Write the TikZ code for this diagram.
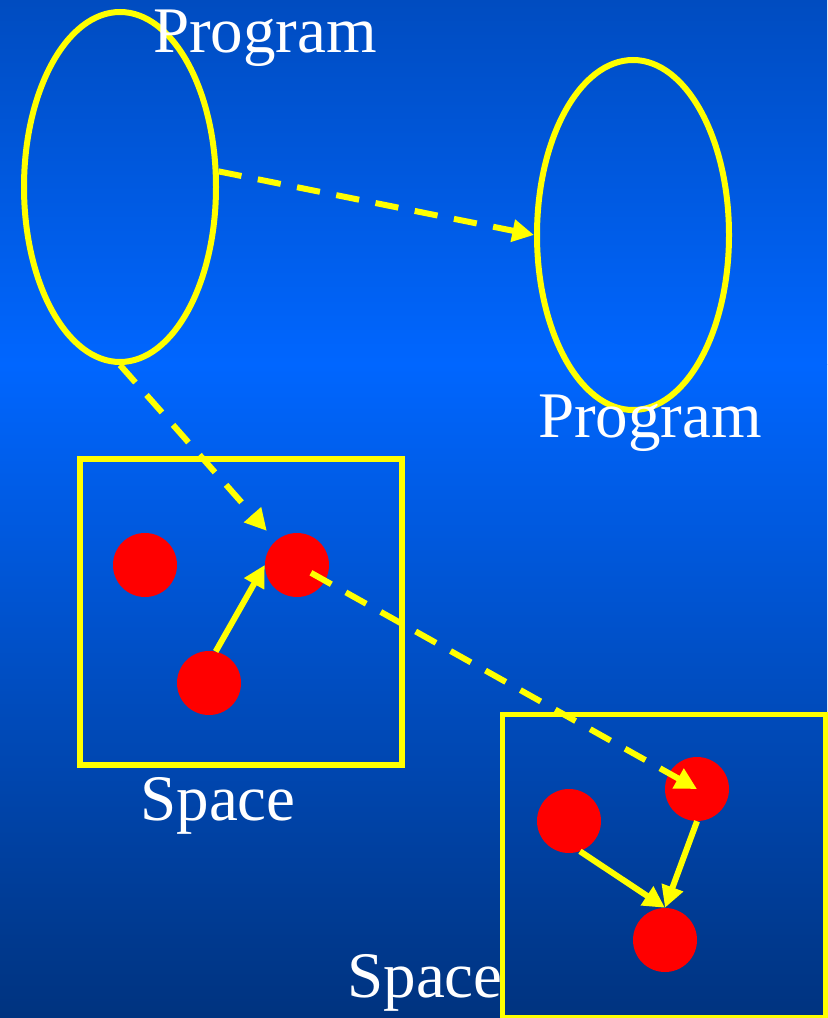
\documentclass[tikz,border=0pt]{standalone}
\usepackage{fontspec}
\setmainfont{Liberation Serif}
\usetikzlibrary{arrows.meta,shapes.geometric}
\definecolor{deep}{HTML}{004CC0}
\definecolor{bright}{HTML}{0066FF}
\definecolor{dusk}{HTML}{00337F}
\definecolor{gold}{HTML}{FFFF00}
\definecolor{ruby}{HTML}{FF0000}

\begin{document}
\begin{tikzpicture}[
 x=0.3mm,y=-0.3mm,
 prog/.style={ellipse,draw=gold,line width=1.8mm,minimum width=57.6mm,minimum height=105mm,inner sep=0pt},
 spacebox/.style={rectangle,draw=gold,line width=1.7mm,minimum width=96.6mm,minimum height=91.8mm,inner sep=0pt},
 dot/.style={circle,fill=ruby,minimum size=19.2mm,inner sep=0pt},
 caption/.style={text=white,anchor=base,inner sep=0pt,font=\fontsize{55.5}{60}\selectfont},
 flow/.style={-{Triangle[length=6.5mm,width=6.5mm]},gold,line width=1.8mm},
 jump/.style={flow,dash pattern=on 7mm off 5mm}
]
\useasboundingbox (0,0) rectangle (827,1018);
\shade[top color=deep,bottom color=bright] (0,0) rectangle (827,364);
\shade[top color=bright,bottom color=dusk] (0,364) rectangle (827,1018);
\node[spacebox] (s1) at (241,612) {};
\node[spacebox,minimum width=96.9mm,minimum height=90.9mm] (s2) at (664,866) {};
\node[prog] (p1) at (120,187) {};
\node[prog] (p2) at (633,235) {};
\node[caption] (t1) at (265,53) {Program};
\node[caption] (t2) at (650,437) {Program};
\node[caption] (t3) at (218,820) {Space};
\node[caption] (t4) at (425,997) {Space};
\node[dot] (a1) at (145,565) {};
\node[dot] (a2) at (297,565) {};
\node[dot] (a3) at (209,683) {};
\node[dot] (b1) at (569,821) {};
\node[dot] (b2) at (697,789) {};
\node[dot] (b3) at (665,940) {};
\draw[jump] (p1.9)--(p2.west);
\draw[jump,shorten >=4mm] (p1.south)--(a2);
\draw[jump,shorten <=4.8mm] (a2.center)--(b2.center);
\draw[flow] (a3.78)--(a2.west);
\draw[flow] (b1.-70)--(b3.north);
\draw[flow] (b2.south)--(b3.north);
\end{tikzpicture}
\end{document}
